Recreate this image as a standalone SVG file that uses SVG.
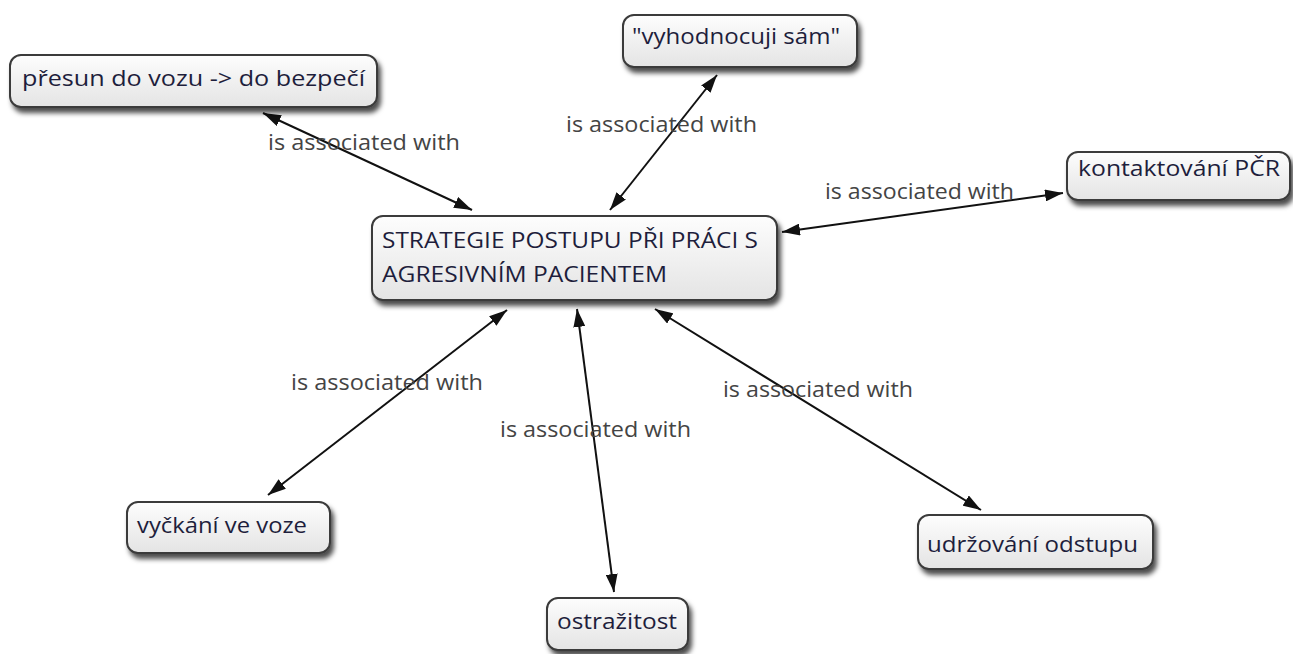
<svg xmlns="http://www.w3.org/2000/svg" width="1293" height="654" viewBox="0 0 1293 654">
  <style>
    .box { fill: url(#boxFill); stroke: #3a3a3a; stroke-width: 2; filter: url(#shadow); }
    .ntext { font-family: "Open Sans", "Noto Sans", "DejaVu Sans", sans-serif; font-size: 22px; fill: #1e1e3c; }
    .ltext { font-family: "Open Sans", "Noto Sans", "DejaVu Sans", sans-serif; font-size: 22px; fill: #444; }
    .link { stroke: #111; stroke-width: 2; fill: none; marker-start: url(#arrow); marker-end: url(#arrow); }
  </style>
  <defs>
    <linearGradient id="boxFill" x1="0" y1="0" x2="0" y2="1">
      <stop offset="0" stop-color="#fdfdfd"/>
      <stop offset="1" stop-color="#e4e4e4"/>
    </linearGradient>
    <filter id="shadow" x="-10%" y="-20%" width="125%" height="160%">
      <feDropShadow dx="3" dy="5" stdDeviation="2.5" flood-color="#000" flood-opacity="0.7"/>
    </filter>
    <marker id="arrow" viewBox="0 0 18 12" refX="18" refY="6" markerWidth="18" markerHeight="12" markerUnits="userSpaceOnUse" orient="auto-start-reverse">
      <path d="M0,0 L18,6 L0,12 Z" fill="#111"/>
    </marker>
  </defs>

  <!-- connectors with their labels -->
  <g id="connectors">
    <line class="link" x1="263" y1="113" x2="472" y2="210"/>
    <line class="link" x1="717" y1="75" x2="610" y2="210"/>
    <line class="link" x1="782" y1="232" x2="1063" y2="193"/>
    <line class="link" x1="507" y1="310" x2="268" y2="495"/>
    <line class="link" x1="577" y1="309" x2="614" y2="592"/>
    <line class="link" x1="655" y1="309" x2="981" y2="510"/>
    <text class="ltext" x="268" y="150" textLength="192" lengthAdjust="spacingAndGlyphs">is associated with</text>
    <text class="ltext" x="566" y="132" textLength="191" lengthAdjust="spacingAndGlyphs">is associated with</text>
    <text class="ltext" x="825" y="199" textLength="189" lengthAdjust="spacingAndGlyphs">is associated with</text>
    <text class="ltext" x="291" y="390" textLength="192" lengthAdjust="spacingAndGlyphs">is associated with</text>
    <text class="ltext" x="500" y="437" textLength="191" lengthAdjust="spacingAndGlyphs">is associated with</text>
    <text class="ltext" x="723" y="397" textLength="190" lengthAdjust="spacingAndGlyphs">is associated with</text>
  </g>

  <g id="node-center">
    <rect class="box" x="372" y="216" width="405" height="84" rx="11"/>
    <text class="ntext" x="382" y="248" textLength="376" lengthAdjust="spacingAndGlyphs">STRATEGIE POSTUPU PŘI PRÁCI S</text>
    <text class="ntext" x="382" y="282" textLength="285" lengthAdjust="spacingAndGlyphs">AGRESIVNÍM PACIENTEM</text>
  </g>

  <g id="node-presun">
    <rect class="box" x="10" y="55" width="367" height="52" rx="11"/>
    <text class="ntext" x="22" y="86" textLength="343" lengthAdjust="spacingAndGlyphs">přesun do vozu -&gt; do bezpečí</text>
  </g>

  <g id="node-vyhodnocuji">
    <rect class="box" x="623" y="15" width="234" height="52" rx="11"/>
    <text class="ntext" x="632" y="44" textLength="208" lengthAdjust="spacingAndGlyphs">"vyhodnocuji sám"</text>
  </g>

  <g id="node-kontaktovani">
    <rect class="box" x="1067" y="152" width="223" height="48" rx="11"/>
    <text class="ntext" x="1078" y="176" textLength="202" lengthAdjust="spacingAndGlyphs">kontaktování PČR</text>
  </g>

  <g id="node-vyckani">
    <rect class="box" x="127" y="502" width="203" height="51" rx="11"/>
    <text class="ntext" x="137" y="533" textLength="170" lengthAdjust="spacingAndGlyphs">vyčkání ve voze</text>
  </g>

  <g id="node-ostrazitost">
    <rect class="box" x="547" y="598" width="141" height="52" rx="11"/>
    <text class="ntext" x="557" y="629" textLength="120" lengthAdjust="spacingAndGlyphs">ostražitost</text>
  </g>

  <g id="node-udrzovani">
    <rect class="box" x="918" y="515" width="235" height="54" rx="11"/>
    <text class="ntext" x="927" y="552" textLength="211" lengthAdjust="spacingAndGlyphs">udržování odstupu</text>
  </g>
</svg>
